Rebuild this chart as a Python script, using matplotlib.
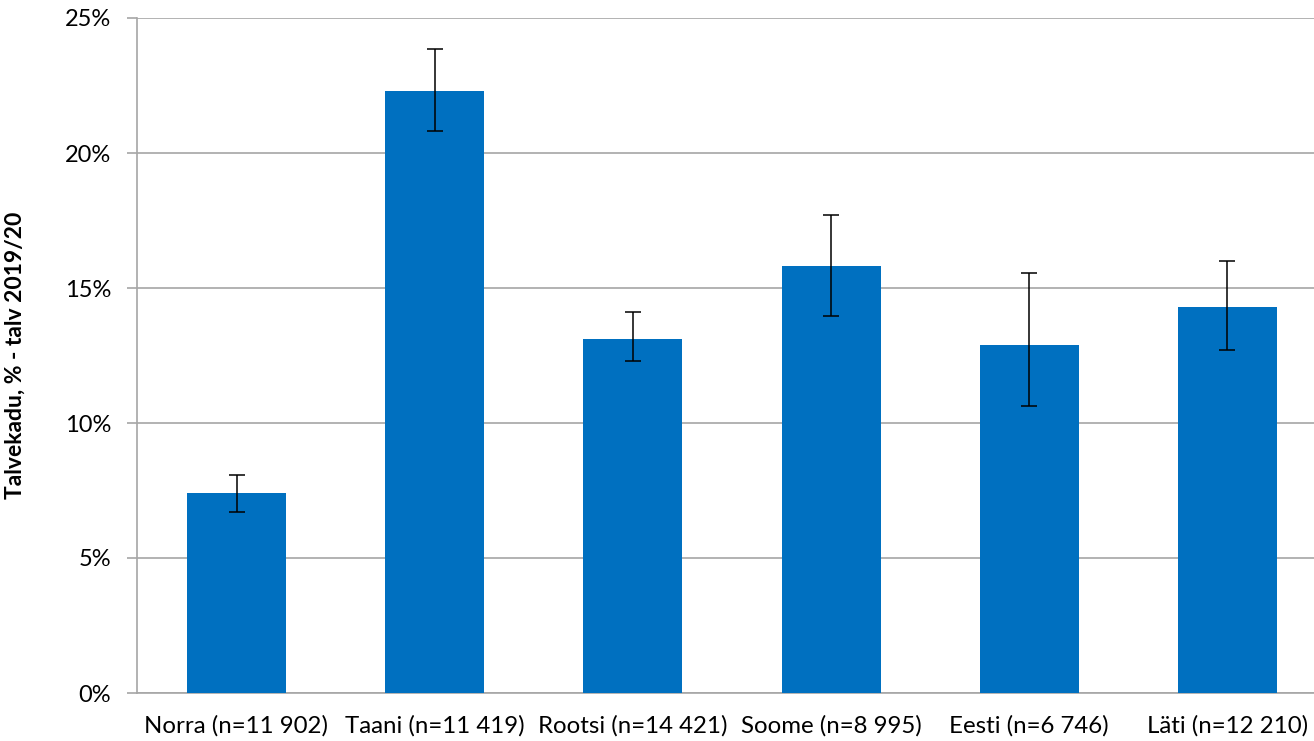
import matplotlib
matplotlib.use("Agg")
import matplotlib.pyplot as plt
from matplotlib.ticker import FuncFormatter, MultipleLocator

categories = ["Norra (n=11 902)", "Taani (n=11 419)", "Rootsi (n=14 421)",
              "Soome (n=8 995)", "Eesti (n=6 746)", "Läti (n=12 210)"]
values = [7.4, 22.3, 13.1, 15.8, 12.9, 14.3]
err_upper = [8.08, 23.85, 14.1, 17.7, 15.55, 16.0]
err_lower = [6.69, 20.8, 12.3, 13.97, 10.63, 12.7]
ylabel = "Talvekadu, % - talv 2019/20"

plt.rcParams['font.family'] = ['Lato', 'DejaVu Sans']

fig = plt.figure(figsize=(13.14, 7.41), dpi=100)
W, H = 1314, 741
left_px, right_px, top_px, bot_px = 137.4, 1326.6, 18, 693
ax = fig.add_axes([left_px / W, 1 - bot_px / H, (right_px - left_px) / W, (bot_px - top_px) / H])

x = list(range(len(categories)))
yerr = [[v - lo for v, lo in zip(values, err_lower)], [hi - v for v, hi in zip(values, err_upper)]]
ax.bar(x, values, width=0.5, color="#0070C0", zorder=3)
ax.errorbar(x, values, yerr=yerr, fmt="none", ecolor="black", elinewidth=1.1,
            capsize=6, capthick=1.1, zorder=4)

ax.set_xlim(-0.5, len(categories) - 0.5)
ax.set_ylim(0, 25)
ax.yaxis.set_major_locator(MultipleLocator(5))
ax.yaxis.set_major_formatter(FuncFormatter(lambda v, p: f"{v:.0f}%"))
ax.grid(axis="y", color="#A6A6A6", linewidth=1.2, zorder=0)
ax.set_axisbelow(True)
for s in ["top", "right"]:
    ax.spines[s].set_visible(False)
ax.spines["left"].set_color("#A6A6A6")
ax.spines["bottom"].set_color("#A6A6A6")
ax.spines["left"].set_linewidth(1.2)
ax.spines["bottom"].set_linewidth(1.2)
ax.tick_params(axis="y", length=7, color="#A6A6A6", width=1.2, labelsize=17, pad=12)
ax.tick_params(axis="x", length=0, labelsize=17.3, pad=16)
ax.set_xticks(x)
ax.set_xticklabels(categories)
ax.set_ylabel(ylabel, fontsize=16.5, fontweight="bold", labelpad=28)

fig.savefig("out.png", dpi=100)
